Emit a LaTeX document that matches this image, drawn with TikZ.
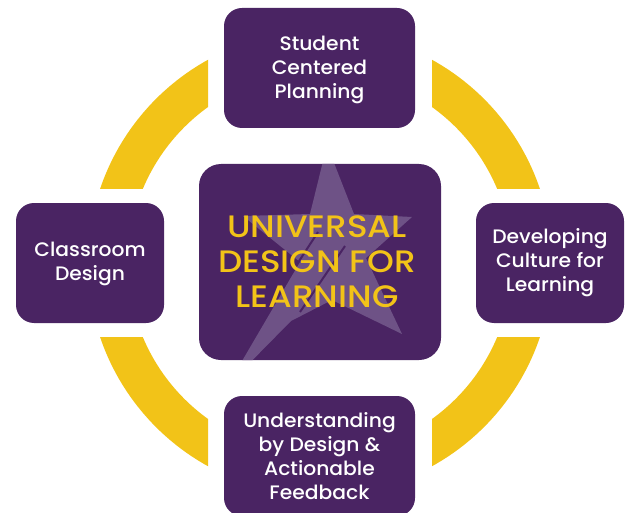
\documentclass[tikz,border=0pt]{standalone}
\usepackage{fontspec}
\setmainfont{Poppins Medium}[FakeStretch=1.04]
\definecolor{udlpurple}{HTML}{4A2463}
\definecolor{udlyellow}{HTML}{F2C318}
\definecolor{udlstar}{HTML}{6E5286}
\tikzset{
  boxnode/.style={fill=udlpurple, rounded corners=18pt, text=white, align=center,
    font=\fontsize{19.5}{24}\selectfont, inner sep=0pt},
}
\begin{document}
\begin{tikzpicture}[x=1pt,y=-1pt]
\useasboundingbox (0,0) rectangle (626,513);
\clip (0,0) rectangle (626,513);
% ring
\begin{scope}
\clip (0,0) rectangle (208,189) (432,0) rectangle (626,189) (0,337) rectangle (208,513) (432,337) rectangle (626,513);
\fill[udlyellow, even odd rule] (320,263) circle (232pt) (320,263) circle (192pt);
\end{scope}
% outer boxes
\node[boxnode, minimum width=191pt, minimum height=120pt] (top) at (319.5,68) {};
\node[text=white, align=center, font=\fontsize{19.5}{24}\selectfont] (toptext) at (319.5,70) {Student\\Centered\\Planning};
\node[boxnode, minimum width=148pt, minimum height=120pt] (left) at (90,263) {};
\node[text=white, align=center, font=\fontsize{19.5}{24}\selectfont] (lefttext) at (90,264) {Classroom\\Design};
\node[boxnode, minimum width=148pt, minimum height=120pt] (right) at (550,263) {Developing\\Culture for\\Learning};
\node[boxnode, minimum width=191pt, minimum height=120pt] (bottom) at (319.5,456) {Understanding\\by Design \&\\Actionable\\Feedback};
% center box
\node[fill=udlpurple, rounded corners=22pt, minimum width=242pt, minimum height=196pt, inner sep=0pt] (center) at (320,262) {};
\begin{scope}
\clip[rounded corners=22pt] (199,164) rectangle (441,360);
\fill[udlstar] (327,145) -- (354,214) -- (412,217) -- (366,258) -- (402,334) -- (332,300) -- (291,321) -- (228,385) -- (300,262) -- (243,216) -- (310,214) -- cycle;
\draw[udlpurple, line width=2pt] (262,318) -- (318,232);
\draw[udlpurple, line width=2pt] (300,312) -- (345,246);
\end{scope}
\node[text=udlyellow, align=center, font=\fontsize{31}{35}\selectfont\addfontfeature{FakeStretch=1.1}] (title) at (317,262) {UNIVERSAL\\DESIGN FOR\\LEARNING};
\end{tikzpicture}
\end{document}
